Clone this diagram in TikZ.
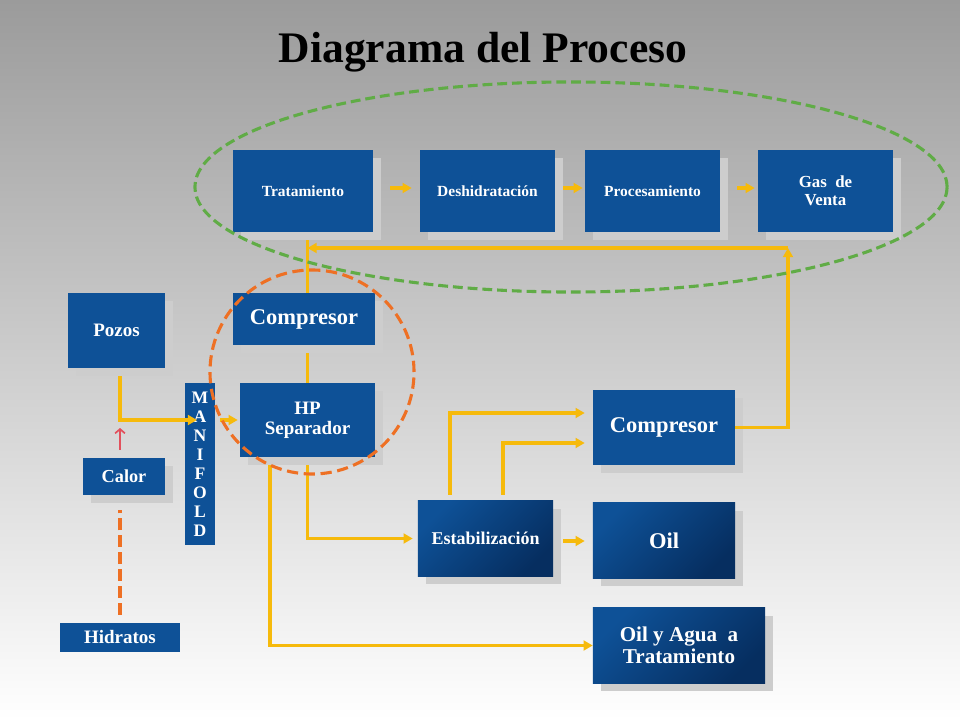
\documentclass[tikz,border=0pt]{standalone}
\usepackage{fontspec}
\setmainfont{Liberation Serif}
\usetikzlibrary{arrows.meta,shadows,backgrounds}
\definecolor{boxblue}{RGB}{14,81,151}
\definecolor{boxnavy}{RGB}{6,46,96}
\definecolor{flowyellow}{RGB}{246,186,12}
\definecolor{hotred}{RGB}{226,80,92}
\definecolor{dashorange}{RGB}{238,112,36}
\definecolor{dashgreen}{RGB}{96,172,70}
\definecolor{shadowgray}{RGB}{205,205,205}
\definecolor{bgtop}{RGB}{155,155,155}
\definecolor{bgmid}{RGB}{218,218,218}
\newcommand{\fs}[2]{\fontsize{#1}{#2}\selectfont\bfseries}
\tikzset{
  box/.style={fill=boxblue, text=white, align=center, inner sep=0pt},
  shadowed/.style={drop shadow={shadow xshift=0.2cm, shadow yshift=-0.2cm, fill=shadowgray, opacity=1}},
  deep/.style={top color=boxblue, bottom color=boxnavy, shading angle=45},
  flow/.style={draw=flowyellow, line width=2.3pt, -{Triangle[length=6.5pt,width=7pt]}},
  pipe/.style={draw=flowyellow, line width=2.3pt},
}
\begin{document}
\begin{tikzpicture}[x=0.025cm, y=-0.025cm]
    \useasboundingbox (0,0) rectangle (960,720);

    \node[font=\fs{31}{36}] (Title) at (483,52) {Diagrama del Proceso};

    \node[box, shadowed, minimum width=3.5cm, minimum height=2.05cm, font=\fs{11}{13}] (Trat) at (303,191) {Tratamiento};
    \node[box, shadowed, minimum width=3.375cm, minimum height=2.05cm, font=\fs{11}{13}] (Desh) at (487.5,191) {Deshidratación};
    \node[box, shadowed, minimum width=3.375cm, minimum height=2.05cm, font=\fs{11}{13}] (Proc) at (652.5,191) {Procesamiento};
    \node[box, shadowed, minimum width=3.375cm, minimum height=2.05cm, font=\fs{12}{13}] (Gas) at (825.5,191) {Gas~ de\\Venta};

    \node[box, shadowed, minimum width=2.425cm, minimum height=1.875cm, font=\fs{13.5}{15}] (Pozos) at (116.5,330.5) {Pozos};
    \node[box, shadowed, minimum width=3.55cm, minimum height=1.3cm, font=\fs{16}{18}] (Comp) at (304,319) {Compresor};
    \node[box, shadowed, minimum width=3.375cm, minimum height=1.85cm, font=\fs{13.5}{14}] (HP) at (307.5,420) {HP\\Separador};
    \node[box, minimum width=0.75cm, minimum height=4.05cm, font=\fs{12.5}{13.5}] (Man) at (200,464) {M\\A\\N\\I\\F\\O\\L\\D};
    \node[box, shadowed, minimum width=2.05cm, minimum height=0.925cm, font=\fs{13}{15}] (Calor) at (124,476.5) {Calor};
    \node[box, minimum width=3cm, minimum height=0.725cm, font=\fs{13.5}{15}] (Hidr) at (120,637.5) {Hidratos};

    \node[box, shadowed, minimum width=3.55cm, minimum height=1.875cm, font=\fs{16}{18}] (CompB) at (664,427.5) {Compresor};
    \node[box, shadowed, deep, minimum width=3.375cm, minimum height=1.875cm, font=\fs{12.8}{15}] (Estab) at (485.5,538.5) {Estabilización};
    \node[box, shadowed, deep, minimum width=3.55cm, minimum height=1.875cm, font=\fs{16}{18}] (Oil) at (664,540.5) {Oil};
    \node[box, shadowed, deep, minimum width=4.3cm, minimum height=1.875cm, font=\fs{15}{16}] (Agua) at (679,645.5) {Oil y Agua~ a\\Tratamiento};

    \coordinate (J) at (120,420);
    \coordinate (R) at (788,248);

    \begin{pgfonlayer}{background}
    \shade[top color=bgtop, middle color=bgmid, bottom color=white] (0,0) rectangle (960,720);
    \draw[pipe] (HP.north) -- (HP.north |- Trat.south);
    \draw[flow, shorten >=0.125cm] (HP.south) |- (Estab.west);
    \draw[flow] ([xshift=-0.9375cm]HP.south) |- (Agua.west);
    \end{pgfonlayer}

    \draw[flow, shorten <=0.425cm, shorten >=0.2cm] (Trat.east |- 0,188) -- (Desh.west |- 0,188);
    \draw[flow, shorten <=0.2cm, shorten >=0.05cm] (Desh.east |- 0,188) -- (Proc.west |- 0,188);
    \draw[flow, shorten <=0.425cm, shorten >=0.075cm] (Proc.east |- 0,188) -- (Gas.west |- 0,188);

    \draw[flow] (CompB.east) -| (R);
    \draw[flow] (R) -- (R -| HP.north);

    \draw[flow, shorten <=0.2cm, shorten >=0.075cm] (Pozos.south -| J) |- (Man.center |- J);
    \draw[flow, shorten <=0.125cm, shorten >=0.05cm] (Man.east |- HP.west) -- (HP.west);
    \draw[hotred, line width=1.2pt, -{Straight Barb[length=3pt,width=7pt]}, shorten <=0.2cm, shorten >=0.2cm] (Calor.north -| J) -- (J);
    \draw[dashorange, line width=2.5pt, dash pattern=on 8.5pt off 3.5pt, shorten <=0.2cm, shorten >=0.375cm] (Hidr.north) -- (Hidr.north |- Calor.south);

    \draw[flow, shorten <=0.15cm, shorten >=0.2cm] ([xshift=-0.8875cm]Estab.north) |- ([yshift=0.3625cm]CompB.west);
    \draw[flow, shorten <=0.15cm, shorten >=0.2cm] ([xshift=0.4375cm]Estab.north) |- ([yshift=-0.3875cm]CompB.west);
    \draw[flow, shorten <=0.25cm, shorten >=0.2cm] (Estab.east |- 0,541) -- (Oil.west |- 0,541);

    \draw[dashgreen, line width=2.2pt, dash pattern=on 7pt off 3.5pt] (571,187) ellipse [x radius=9.4cm, y radius=2.625cm];
    \draw[dashorange, line width=2.2pt, dash pattern=on 8pt off 4pt] (312,372) circle [radius=2.55cm];
\end{tikzpicture}
\end{document}
